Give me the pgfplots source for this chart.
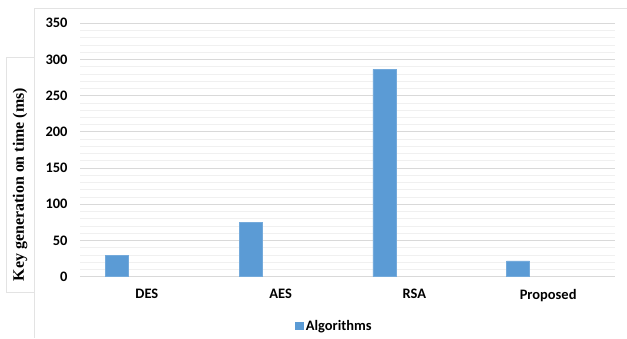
\documentclass[border=0pt]{standalone}
\usepackage{fontspec}
\setmainfont{Carlito}
\newfontfamily\labelserif{Liberation Serif}
\usepackage{pgfplots}
\pgfplotsset{compat=1.18}

\definecolor{barblue}{HTML}{5B9BD5}
\definecolor{majgrid}{HTML}{D9D9D9}
\definecolor{mingrid}{HTML}{F0F0F0}
\definecolor{framegray}{HTML}{E3E3E3}

\begin{document}
\begin{tikzpicture}[x=1bp,y=1bp]
  % outer chart frame (top and left edges)
  \draw[framegray, line width=0.8bp] (34,0) -- (34,330) -- (627,330);
  % panel holding the vertical axis title
  \fill[white] (6,46) rectangle (34,281);
  \draw[framegray, line width=0.6bp] (34,281) -- (6,281) -- (6,46) -- (34,46);
  \node[rotate=90, font=\labelserif\bfseries\fontsize{16}{16}\selectfont]
    at (20,153.5) {Key generation on time (ms)};

  \begin{axis}[
    at={(80bp,61.3bp)}, anchor=south west,
    scale only axis, width=535bp, height=253.4bp,
    ybar, bar width=23bp, bar shift=-30bp,
    xmin=-0.5, xmax=3.5, ymin=0, ymax=350,
    xtick={0,1,2,3},
    xticklabels={DES,AES,RSA,Proposed},
    ytick={0,50,100,150,200,250,300,350},
    minor y tick num=4,
    ymajorgrids, yminorgrids,
    major grid style={majgrid, line width=0.9bp},
    minor grid style={mingrid, line width=0.8bp},
    axis line style={draw=none},
    major tick length=0pt, minor tick length=0pt,
    /pgf/number format/assume math mode=true,
    ticklabel style={font=\bfseries\fontsize{14.5}{14.5}\selectfont},
    yticklabel style={xshift=-9bp},
    xticklabel style={yshift=-9bp},
    legend style={at={(0.4757,-0.1946)}, anchor=center, draw=none,
      font=\bfseries\fontsize{14.5}{14.5}\selectfont, fill=none,
      inner sep=0pt, nodes={inner xsep=2bp}},
    legend image code/.code={\fill[barblue] (-4bp,-3.5bp) rectangle (4bp,3.5bp);},
  ]
    \addplot[fill=barblue, draw=barblue!85!white, line width=0.5bp]
      coordinates {(0,29) (1,75) (2,286.5) (3,22)};
    \addlegendentry{Algorithms}
  \end{axis}
  \pgfresetboundingbox
  \useasboundingbox (0,0) rectangle (627,338);
\end{tikzpicture}
\end{document}
